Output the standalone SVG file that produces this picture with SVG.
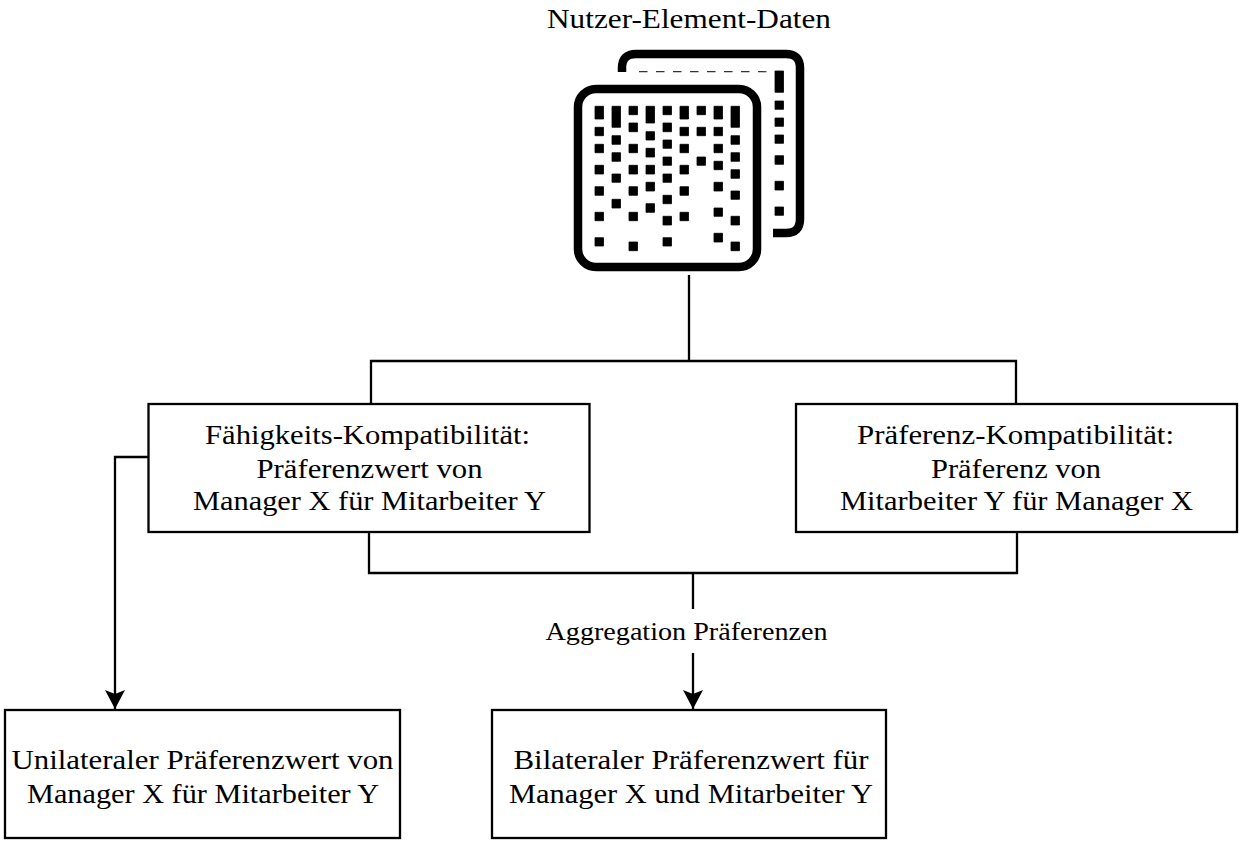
<svg xmlns="http://www.w3.org/2000/svg" width="1243" height="844" viewBox="0 0 1243 844">
<style>
text{font-family:"Liberation Serif","DejaVu Serif",serif;font-size:28px;fill:#000;text-anchor:middle}
.box{fill:#fff;stroke:#000;stroke-width:2.300}
.c{fill:none;stroke:#000;stroke-width:2.300}
</style>
<defs><marker id="a" markerUnits="userSpaceOnUse" markerWidth="22" markerHeight="22" refX="19" refY="11" orient="auto"><path d="M0 1L19 11L0 21L4 11z" fill="#000"/></marker></defs>
<rect width="1243" height="844" fill="#fff"/>
<g id="connectors">
<path class="c" d="M689 275V361M371 404V361H1016V404"/>
<path class="c" d="M369 532V573H1017V532M693 573V609"/>
<path class="c" d="M693 653V709" marker-end="url(#a)"/>
<path class="c" d="M148 457H115V709" marker-end="url(#a)"/>
</g>
<g id="icon">
<path d="M622 72V68Q622 54 636 54H786Q800 54 800 68V219Q800 233 786 233H773" fill="none" stroke="#000" stroke-width="8.500"/>
<path d="M639 71.700H775" fill="none" stroke="#333" stroke-width="1.200" stroke-dasharray="8.500 8.500"/>
<rect x="578" y="89" width="179" height="178" rx="18" fill="#fff" stroke="#000" stroke-width="8.500"/>
<path fill="#000" stroke="#000" stroke-width=".8" d="M595 106.300h8.500v12.700h-8.500zM595 127.300h8.500v8.400h-8.500zM595 144.300h8.500v8.400h-8.500zM595 165.300h8.500v8.700h-8.500zM595 186.700h8.500v8.600h-8.500zM595 212.300h8.500v8.400h-8.500zM595 237.700h8.500v8.300h-8.500z
M612 106.300h8.500v21h-8.500zM612 135.700h8.500v8.600h-8.500zM612 152.700h8.500v8.600h-8.500zM612 174h8.500v8.300h-8.500zM612 199.300h8.500v8.700h-8.500z
M629 106.300h8.500v8.400h-8.500zM629 123h8.500v8.700h-8.500zM629 144.300h8.500v8.400h-8.500zM629 165.300h8.500v8.700h-8.500zM629 186.700h8.500v8.600h-8.500zM629 212.300h8.500v8.400h-8.500zM629 242h8.500v8.700h-8.500z
M646 106.300h8.500v16.700h-8.500zM646 131.700h8.500v8.300h-8.500zM646 148.300h8.500v8.700h-8.500zM646 165.300h8.500v8.700h-8.500zM646 182.300h8.500v8.700h-8.500zM646 203.700h8.500v8.600h-8.500z
M663 106.300h8.500v8.400h-8.500zM663 123h8.500v8.700h-8.500zM663 140h8.500v8.300h-8.500zM663 157h8.500v8.300h-8.500zM663 174h8.500v8.300h-8.500zM663 195.300h8.500v8.400h-8.500zM663 216.300h8.500v8.700h-8.500zM663 237.700h8.500v8.300h-8.500z
M680 106.300h8.500v12.700h-8.500zM680 127.300h8.500v8.400h-8.500zM680 144.300h8.500v8.400h-8.500zM680 165.300h8.500v8.700h-8.500zM680 186.700h8.500v8.600h-8.500zM680 212.300h8.500v8.400h-8.500z
M697 106.300h8.500v8.400h-8.500zM697 127.300h8.500v8.400h-8.500zM697 157h8.500v8.300h-8.500z
M714 106.300h8.500v12.700h-8.500zM714 127.300h8.500v8.400h-8.500zM714 144.300h8.500v8.400h-8.500zM714 161.300h8.500v8.400h-8.500zM714 182.300h8.500v8.700h-8.500zM714 208h8.500v8.300h-8.500zM714 233.300h8.500v8.700h-8.500z
M731 106.300h8.500v21h-8.500zM731 135.700h8.500v8.600h-8.500zM731 152.700h8.500v8.600h-8.500zM731 169.700h8.500v8.600h-8.500zM731 191h8.500v8.300h-8.500zM731 216.300h8.500v8.700h-8.500zM731 242h8.500v8.700h-8.500z
M775 71h8.500v21.300h-8.500zM775 101h8.500v8.300h-8.500zM775 118h8.500v8.300h-8.500zM775 135h8.500v8.300h-8.500zM775 155.700h8.500v8.600h-8.500zM775 181.300h8.500v8.700h-8.500zM775 207h8.500v8.300h-8.500z"/>
<text x="689" y="28" textLength="284" lengthAdjust="spacingAndGlyphs">Nutzer-Element-Daten</text>
</g>
<g id="node-faehigkeit">
<rect class="box" x="148.500" y="404" width="441" height="128"/>
<text x="367.500" y="444" textLength="325" lengthAdjust="spacingAndGlyphs">Fähigkeits-Kompatibilität:</text>
<text x="369.500" y="478" textLength="226" lengthAdjust="spacingAndGlyphs">Präferenzwert von</text>
<text x="369.500" y="510" textLength="353" lengthAdjust="spacingAndGlyphs">Manager X für Mitarbeiter Y</text>
</g>
<g id="node-praeferenz">
<rect class="box" x="796" y="404" width="441" height="128"/>
<text x="1015.500" y="444" textLength="317" lengthAdjust="spacingAndGlyphs">Präferenz-Kompatibilität:</text>
<text x="1016" y="478" textLength="170" lengthAdjust="spacingAndGlyphs">Präferenz von</text>
<text x="1016.500" y="510" textLength="353" lengthAdjust="spacingAndGlyphs">Mitarbeiter Y für Manager X</text>
</g>
<g id="label-aggregation"><text x="686.500" y="640" style="font-size:25px" textLength="282" lengthAdjust="spacingAndGlyphs">Aggregation Präferenzen</text></g>
<g id="node-unilateral">
<rect class="box" x="5" y="710" width="395" height="128"/>
<text x="202.500" y="768.500" textLength="382" lengthAdjust="spacingAndGlyphs">Unilateraler Präferenzwert von</text>
<text x="203" y="802.500" textLength="352" lengthAdjust="spacingAndGlyphs">Manager X für Mitarbeiter Y</text>
</g>
<g id="node-bilateral">
<rect class="box" x="492" y="710" width="394" height="128"/>
<text x="691" y="768.500" textLength="355" lengthAdjust="spacingAndGlyphs">Bilateraler Präferenzwert für</text>
<text x="691" y="802.500" textLength="364" lengthAdjust="spacingAndGlyphs">Manager X und Mitarbeiter Y</text>
</g>
</svg>
